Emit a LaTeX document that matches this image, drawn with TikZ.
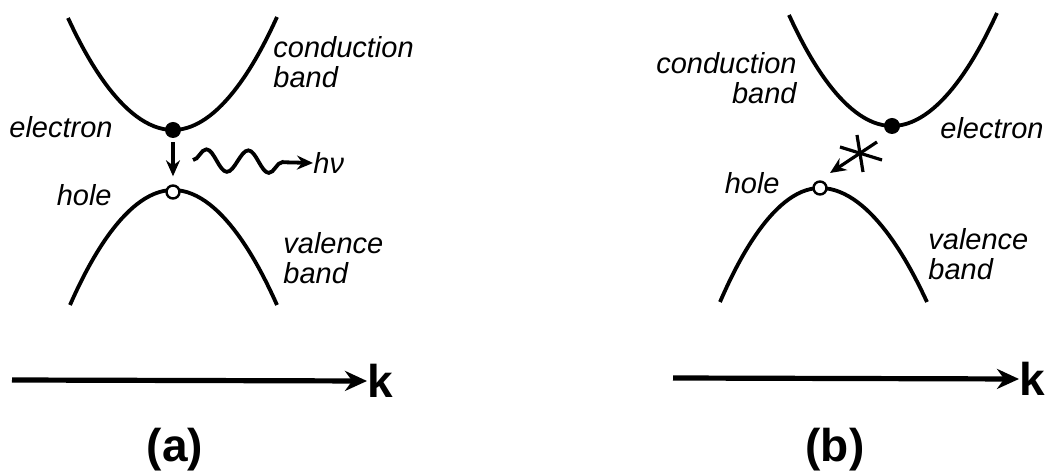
\documentclass[tikz,border=0pt]{standalone}
\usepackage{fontspec}
\setmainfont{Liberation Sans}
\usepackage{tikz}
\usetikzlibrary{arrows.meta, decorations.pathmorphing}

\begin{document}
\begin{tikzpicture}[
        x=0.5pt, y=-0.5pt,
        band/.style={line width=1.9pt},
        txt/.style={font=\fontsize{14.5}{15}\selectfont\itshape, inner sep=0pt},
        big/.style={font=\fontsize{23}{24}\selectfont\bfseries, inner sep=0pt},
        electron/.style={circle, fill, inner sep=0pt, minimum size=8pt},
        hole/.style={circle, draw, fill=white, line width=1.2pt, inner sep=0pt, minimum size=6.5pt},
        jump/.style={line width=1.6pt, -{Stealth[length=8pt, width=7pt]}},
        photon/.style={line width=1.9pt, decorate, decoration={snake, amplitude=5.5pt, segment length=21pt, post length=8pt}},
        axis/.style={line width=2.6pt, -{Stealth[length=11pt, width=10pt]}}
    ]
        \useasboundingbox (0,0) rectangle (1045,475);

        % Bands (a)
        \draw [band] (68,18) parabola bend (173,130) (277,17);
        \draw [band] (70,305) parabola bend (173,190) (277,305);

        % Bands (b)
        \draw [band] (789,15) parabola bend (892,126) (997,13);
        \draw [band] (720,302) parabola bend (820,188) (927,302);

        % Carriers
        \node (el1) [electron] at (173,130) {};
        \node (ho1) [hole] at (173,192) {};
        \node (el2) [electron] at (892,126) {};
        \node (ho2) [hole] at (820,188) {};

        % Labels (a)
        \node (cb1) [txt, anchor=west, align=left] at (273,62) {conduction\\band};
        \node (vb1) [txt, anchor=west, align=left] at (283,258) {valence\\band};
        \node (elt1) [txt, anchor=east] at (113,127) {electron};
        \node (hot1) [txt, anchor=east] at (112,195) {hole};
        \node (hv) [txt, anchor=west] at (313,163) {hν};

        % Labels (b)
        \node (cb2) [txt, anchor=east, align=right] at (797,78) {conduction\\band};
        \node (vb2) [txt, anchor=west, align=left] at (928,254) {valence\\band};
        \node (elt2) [txt, anchor=west] at (940,128) {electron};
        \node (hot2) [txt, anchor=east] at (780,183) {hole};

        % Transitions
        \draw [jump, shorten <=2pt, shorten >=4pt] (el1) -- (ho1);
        \coordinate (wv) at (193,160);
        \draw [photon, -{Stealth[length=8pt, width=7pt]}] (wv) -- (hv.west);

        \coordinate (st) at (877,142);
        \coordinate (tip) at (830,173);
        \coordinate (star) at (860,153);
        \draw [jump] (st) -- (tip);
        \draw [line width=1.6pt] (star) ++(-3,-18) -- ++(6,37);
        \draw [line width=1.6pt] (star) ++(-20,-6) -- ++(42,13);

        % k axes
        \node (k1) [big, anchor=west] at (367,381) {k};
        \node (k2) [big, anchor=west] at (1019,379) {k};
        \coordinate (o1) at (12,380);
        \coordinate (o2) at (673,378);
        \draw [axis] (o1) -- (k1.west);
        \draw [axis] (o2) -- (k2.west);

        % Panel tags
        \node (pa) [big] at (175,450) {(a)};
        \node (pb) [big] at (835,450) {(b)};
    \end{tikzpicture}
\end{document}
